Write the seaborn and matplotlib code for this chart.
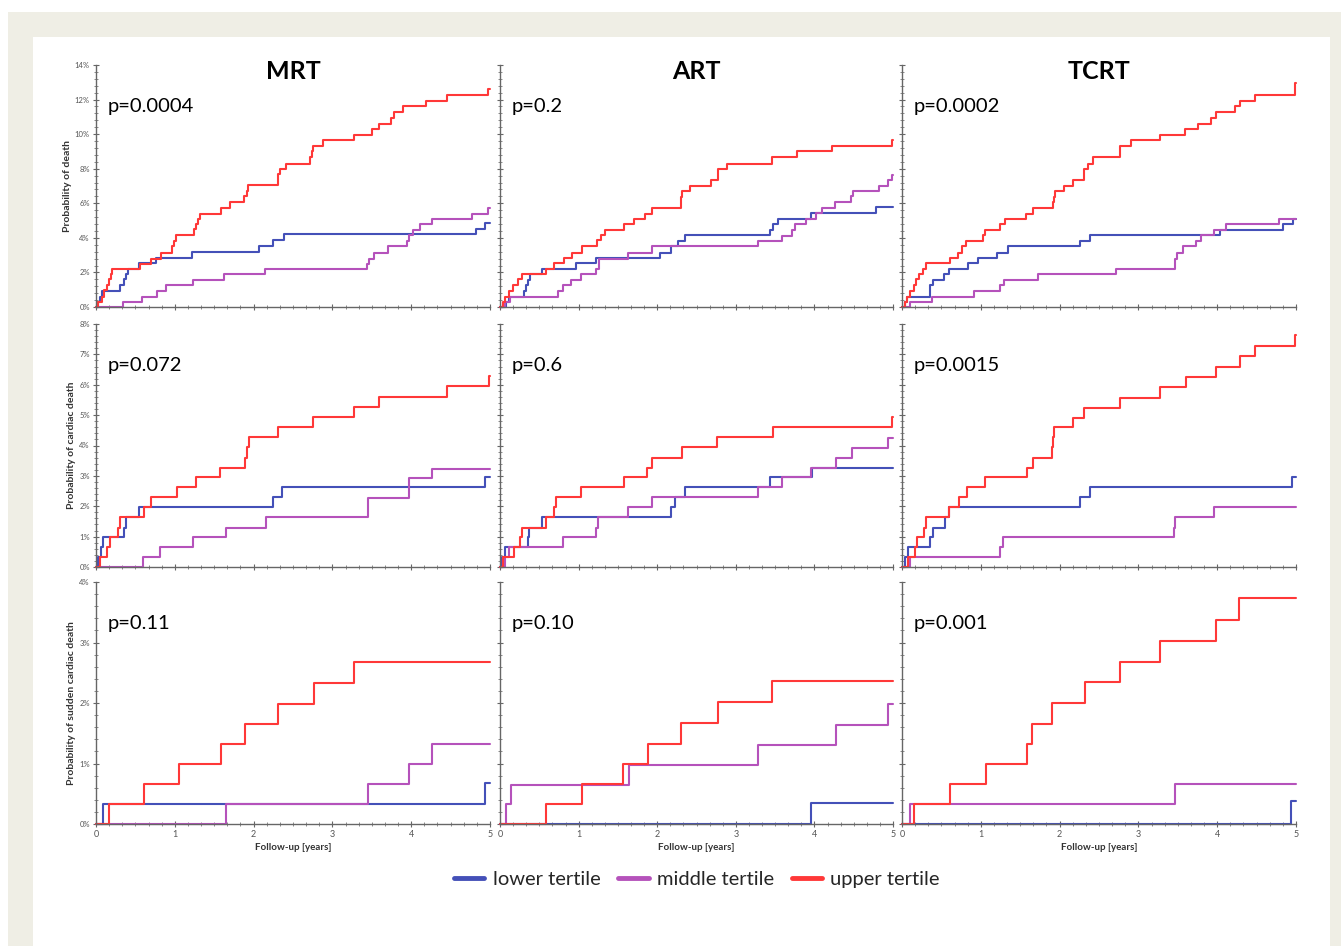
import numpy as np
import pandas as pd
import matplotlib
matplotlib.use('Agg')
import matplotlib.pyplot as plt
import seaborn as sns
from matplotlib.lines import Line2D
from matplotlib.patches import Rectangle
from matplotlib.ticker import MultipleLocator, PercentFormatter

# step curves: (follow-up years, cumulative probability %)
# row 1: all-cause death
mrt_death_lower = [(0.03, 0.3), (0.05, 0.6), (0.08, 0.95), (0.31, 1.25), (0.35, 1.6), (0.38, 1.9),
                   (0.40, 2.2), (0.54, 2.55), (0.76, 2.85), (1.22, 3.2), (2.07, 3.5), (2.25, 3.85),
                   (2.38, 4.2), (4.82, 4.5), (4.94, 4.85)]
mrt_death_middle = [(0.34, 0.3), (0.58, 0.6), (0.77, 0.95), (0.89, 1.25), (1.23, 1.55), (1.62, 1.9),
                    (2.15, 2.2), (3.44, 2.5), (3.46, 2.8), (3.53, 3.15), (3.70, 3.5), (3.95, 3.8),
                    (3.97, 4.15), (4.02, 4.45), (4.11, 4.8), (4.27, 5.1), (4.77, 5.4), (4.98, 5.75)]
mrt_death_upper = [(0.03, 0.3), (0.07, 0.6), (0.10, 1.0), (0.14, 1.3), (0.17, 1.6), (0.19, 1.9),
                   (0.20, 2.2), (0.56, 2.5), (0.70, 2.8), (0.82, 3.15), (0.96, 3.5), (0.99, 3.8),
                   (1.02, 4.15), (1.24, 4.5), (1.27, 4.8), (1.29, 5.1), (1.32, 5.4), (1.58, 5.75),
                   (1.70, 6.05), (1.88, 6.4), (1.91, 6.7), (1.93, 7.05), (2.31, 7.7), (2.33, 8.0),
                   (2.41, 8.3), (2.71, 8.65), (2.74, 9.0), (2.76, 9.3), (2.88, 9.65), (3.28, 9.95),
                   (3.50, 10.3), (3.59, 10.6), (3.74, 10.95), (3.78, 11.3), (3.89, 11.6), (4.19, 11.9),
                   (4.46, 12.25), (4.98, 12.6)]

art_death_lower = [(0.08, 0.3), (0.11, 0.6), (0.30, 0.95), (0.33, 1.25), (0.35, 1.55), (0.38, 1.9),
                   (0.54, 2.2), (0.97, 2.55), (1.22, 2.85), (2.04, 3.15), (2.17, 3.5), (2.26, 3.8),
                   (2.36, 4.15), (3.43, 4.45), (3.47, 4.8), (3.54, 5.1), (3.96, 5.45), (4.78, 5.8)]
art_death_middle = [(0.06, 0.3), (0.13, 0.6), (0.74, 0.95), (0.80, 1.25), (0.90, 1.55), (1.03, 1.9),
                    (1.22, 2.2), (1.26, 2.8), (1.63, 3.15), (1.94, 3.5), (3.28, 3.8), (3.59, 4.1),
                    (3.71, 4.45), (3.75, 4.8), (3.89, 5.1), (4.02, 5.45), (4.10, 5.75), (4.26, 6.05),
                    (4.47, 6.4), (4.49, 6.7), (4.82, 7.0), (4.94, 7.35), (4.99, 7.65)]
art_death_upper = [(0.04, 0.3), (0.06, 0.6), (0.11, 0.9), (0.17, 1.25), (0.23, 1.6), (0.28, 1.9),
                   (0.58, 2.2), (0.69, 2.55), (0.81, 2.85), (0.91, 3.15), (1.04, 3.5), (1.24, 3.85),
                   (1.29, 4.15), (1.33, 4.45), (1.58, 4.8), (1.70, 5.1), (1.84, 5.4), (1.94, 5.75),
                   (2.30, 6.35), (2.32, 6.7), (2.42, 7.0), (2.68, 7.35), (2.77, 8.0), (2.89, 8.3),
                   (3.46, 8.65), (3.78, 9.0), (4.22, 9.3), (4.99, 9.65)]

tcrt_death_lower = [(0.04, 0.3), (0.06, 0.6), (0.36, 1.25), (0.39, 1.55), (0.53, 1.9), (0.60, 2.2),
                    (0.84, 2.55), (0.97, 2.85), (1.21, 3.15), (1.34, 3.5), (2.26, 3.8), (2.38, 4.15),
                    (4.03, 4.45), (4.83, 4.8), (4.96, 5.1)]
tcrt_death_middle = [(0.10, 0.3), (0.38, 0.6), (0.91, 0.95), (1.24, 1.25), (1.29, 1.55), (1.72, 1.9),
                     (2.72, 2.2), (3.46, 2.5), (3.47, 2.8), (3.49, 3.15), (3.56, 3.5), (3.73, 3.8),
                     (3.80, 4.15), (3.96, 4.45), (4.11, 4.8), (4.78, 5.1)]
tcrt_death_upper = [(0.04, 0.3), (0.06, 0.6), (0.10, 0.95), (0.15, 1.25), (0.18, 1.6), (0.22, 1.9),
                    (0.27, 2.2), (0.30, 2.55), (0.61, 2.85), (0.71, 3.15), (0.76, 3.5), (0.81, 3.8),
                    (1.03, 4.15), (1.05, 4.45), (1.24, 4.8), (1.31, 5.1), (1.57, 5.4), (1.66, 5.75),
                    (1.91, 6.05), (1.93, 6.35), (1.94, 6.7), (2.06, 7.0), (2.17, 7.35), (2.31, 8.0),
                    (2.36, 8.3), (2.42, 8.65), (2.77, 9.3), (2.90, 9.65), (3.27, 9.95), (3.59, 10.3),
                    (3.75, 10.6), (3.92, 10.95), (3.98, 11.3), (4.23, 11.6), (4.29, 11.9),
                    (4.48, 12.25), (4.99, 12.95)]

# row 2: cardiac death
mrt_card_lower = [(0.03, 0.33), (0.06, 0.65), (0.09, 1.0), (0.36, 1.3), (0.38, 1.63), (0.54, 1.96),
                  (2.25, 2.29), (2.36, 2.62), (4.94, 2.95)]
mrt_card_middle = [(0.60, 0.33), (0.81, 0.65), (1.23, 0.98), (1.65, 1.3), (2.16, 1.63), (3.45, 2.27),
                   (3.97, 2.92), (4.27, 3.24)]
mrt_card_upper = [(0.05, 0.33), (0.14, 0.65), (0.18, 1.0), (0.28, 1.3), (0.30, 1.63), (0.61, 1.96),
                  (0.70, 2.29), (1.03, 2.62), (1.27, 2.95), (1.57, 3.27), (1.89, 3.6), (1.92, 3.96),
                  (1.94, 4.29), (2.31, 4.62), (2.76, 4.95), (3.27, 5.27), (3.59, 5.6), (4.46, 5.95),
                  (4.99, 6.3)]

art_card_lower = [(0.02, 0.33), (0.06, 0.65), (0.35, 1.0), (0.37, 1.3), (0.53, 1.63), (2.17, 1.96),
                  (2.23, 2.29), (2.36, 2.62), (3.44, 2.95), (3.97, 3.27)]
art_card_middle = [(0.06, 0.33), (0.11, 0.65), (0.80, 1.0), (1.22, 1.3), (1.25, 1.63), (1.63, 1.96),
                   (1.93, 2.29), (3.28, 2.62), (3.59, 2.95), (3.96, 3.27), (4.27, 3.6), (4.48, 3.93),
                   (4.94, 4.26)]
art_card_upper = [(0.04, 0.33), (0.18, 0.65), (0.26, 1.0), (0.28, 1.3), (0.58, 1.63), (0.69, 1.96),
                  (0.71, 2.29), (1.03, 2.62), (1.58, 2.95), (1.87, 3.27), (1.94, 3.6), (2.31, 3.96),
                  (2.76, 4.29), (3.47, 4.62), (4.99, 4.95)]

tcrt_card_lower = [(0.04, 0.33), (0.07, 0.65), (0.36, 1.0), (0.39, 1.3), (0.55, 1.63), (0.60, 1.96),
                   (2.26, 2.29), (2.38, 2.62), (4.95, 2.95)]
tcrt_card_middle = [(0.10, 0.33), (1.24, 0.65), (1.28, 0.98), (3.45, 1.3), (3.46, 1.63), (3.96, 1.96)]
tcrt_card_upper = [(0.08, 0.33), (0.16, 0.65), (0.19, 1.0), (0.28, 1.3), (0.30, 1.63), (0.60, 1.96),
                   (0.72, 2.29), (0.82, 2.62), (1.05, 2.95), (1.58, 3.27), (1.66, 3.6), (1.90, 3.96),
                   (1.92, 4.29), (1.93, 4.6), (2.17, 4.92), (2.31, 5.25), (2.77, 5.58), (3.28, 5.91),
                   (3.60, 6.24), (3.98, 6.59), (4.29, 6.95), (4.48, 7.29), (4.99, 7.65)]

# row 3: sudden cardiac death
mrt_scd_lower = [(0.09, 0.33), (4.94, 0.68)]
mrt_scd_middle = [(1.65, 0.33), (3.45, 0.66), (3.97, 0.99), (4.27, 1.32)]
mrt_scd_upper = [(0.16, 0.33), (0.61, 0.66), (1.05, 0.99), (1.58, 1.32), (1.89, 1.66), (2.31, 1.99),
                 (2.77, 2.33), (3.28, 2.68)]

art_scd_lower = [(3.96, 0.35)]
art_scd_middle = [(0.08, 0.33), (0.14, 0.65), (1.64, 0.97), (3.28, 1.3), (4.27, 1.63), (4.94, 1.99)]
art_scd_upper = [(0.59, 0.33), (1.04, 0.66), (1.57, 1.0), (1.88, 1.33), (2.30, 1.67), (2.77, 2.02),
                 (3.46, 2.37)]

tcrt_scd_lower = [(4.94, 0.38)]
tcrt_scd_middle = [(0.10, 0.33), (3.46, 0.66)]
tcrt_scd_upper = [(0.15, 0.33), (0.61, 0.66), (1.06, 1.0), (1.58, 1.33), (1.65, 1.66), (1.90, 2.0),
                  (2.32, 2.34), (2.77, 2.68), (3.28, 3.03), (3.98, 3.38), (4.28, 3.74)]

methods = ["MRT", "ART", "TCRT"]
endpoints = ["Probability of death", "Probability of cardiac death",
             "Probability of sudden cardiac death"]
p_values = [["p=0.0004", "p=0.2", "p=0.0002"],
            ["p=0.072", "p=0.6", "p=0.0015"],
            ["p=0.11", "p=0.10", "p=0.001"]]
tertiles = ["lower tertile", "middle tertile", "upper tertile"]

curves = [
    [(mrt_death_lower, mrt_death_middle, mrt_death_upper),
     (art_death_lower, art_death_middle, art_death_upper),
     (tcrt_death_lower, tcrt_death_middle, tcrt_death_upper)],
    [(mrt_card_lower, mrt_card_middle, mrt_card_upper),
     (art_card_lower, art_card_middle, art_card_upper),
     (tcrt_card_lower, tcrt_card_middle, tcrt_card_upper)],
    [(mrt_scd_lower, mrt_scd_middle, mrt_scd_upper),
     (art_scd_lower, art_scd_middle, art_scd_upper),
     (tcrt_scd_lower, tcrt_scd_middle, tcrt_scd_upper)],
]

colors = {"lower tertile": "#4450b8", "middle tertile": "#b552bb", "upper tertile": "#ff3838"}
y_max = [14, 8, 4]
y_major = [2, 1, 1]
y_minor = [0.4, 0.2, 0.2]


def steps_frame(series):
    rows = []
    for tert, pts in zip(tertiles, series):
        ts = [0.0] + [t for t, _ in pts] + [5.0]
        ps = [0.0] + [p for _, p in pts] + [pts[-1][1]]
        rows += [{"years": t, "prob": p, "tertile": tert} for t, p in zip(ts, ps)]
    return pd.DataFrame(rows)


sns.set_theme(style="ticks")
plt.rcParams['font.family'] = ['Lato', 'DejaVu Sans']

W, H = 1341, 946
fig = plt.figure(figsize=(W / 100, H / 100), dpi=100, facecolor="white")
fig.patches.append(Rectangle((8 / W, 0), 1 - 8 / W, 1 - 12 / H, transform=fig.transFigure,
                             facecolor="#efeee5", edgecolor="none", zorder=-2))
fig.patches.append(Rectangle((33 / W, 0), (1330 - 33) / W, 1 - 37 / H, transform=fig.transFigure,
                             facecolor="white", edgecolor="none", zorder=-1))

col_px = [(96, 490), (500, 893), (902, 1296)]
row_px = [(65, 307), (324, 567), (582, 824)]

for r in range(3):
    for c in range(3):
        x0, x1 = col_px[c]
        y0, y1 = row_px[r]
        ax = fig.add_axes([x0 / W, 1 - y1 / H, (x1 - x0) / W, (y1 - y0) / H])
        ax.set_facecolor("none")
        df = steps_frame(curves[r][c])
        sns.lineplot(data=df, x="years", y="prob", hue="tertile", hue_order=tertiles,
                     palette=colors, estimator=None, drawstyle="steps-post",
                     linewidth=1.5, legend=False, ax=ax)
        for line in ax.lines:
            line.set_clip_on(False)

        ax.set_xlim(0, 5)
        ax.set_ylim(0, y_max[r])
        ax.xaxis.set_major_locator(MultipleLocator(1))
        ax.xaxis.set_minor_locator(MultipleLocator(1 / 6))
        ax.yaxis.set_major_locator(MultipleLocator(y_major[r]))
        ax.yaxis.set_minor_locator(MultipleLocator(y_minor[r]))
        ax.yaxis.set_major_formatter(PercentFormatter(xmax=100, decimals=0))
        sns.despine(ax=ax)
        for side in ("left", "bottom"):
            ax.spines[side].set_color("#666666")
            ax.spines[side].set_linewidth(1.0)
        ax.tick_params(which="major", direction="inout", length=5, width=0.8, color="#666666",
                       labelsize=5.5, labelcolor="#555555", pad=2)
        ax.tick_params(which="minor", direction="inout", length=3, width=0.6, color="#777777")

        if c == 0:
            ax.set_ylabel(endpoints[r], fontsize=7.5, fontweight="bold", color="#333333", labelpad=2)
        else:
            ax.set_ylabel("")
            ax.tick_params(axis="y", labelleft=False)
        if r == 2:
            ax.set_xlabel("Follow-up [years]", fontsize=7, fontweight="bold", color="#333333",
                          labelpad=3)
            ax.tick_params(axis="x", labelsize=6.5)
        else:
            ax.set_xlabel("")
            ax.tick_params(axis="x", labelbottom=False)

        if r == 0:
            ax.text(0.5, 0.975, methods[c], transform=ax.transAxes, ha="center", va="center",
                    fontsize=18, fontweight="bold", color="black")
        ax.text(0.03, 0.83, p_values[r][c], transform=ax.transAxes, ha="left", va="center",
                fontsize=14.5, color="black")

handles = [Line2D([], [], color=colors[t], linewidth=3.5) for t in tertiles]
fig.legend(handles, tertiles, loc="center", bbox_to_anchor=(697 / W, 1 - 879 / H), ncol=3,
           frameon=False, fontsize=14.5, handlelength=1.5, handletextpad=0.4, columnspacing=0.9)

fig.savefig("out.png", dpi=100, facecolor=fig.get_facecolor())
